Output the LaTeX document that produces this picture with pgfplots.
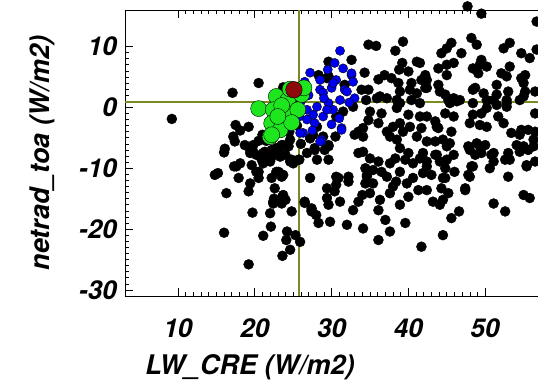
\documentclass[border=0pt]{standalone}
\usepackage{pgfplots}
\pgfplotsset{compat=1.18}
\usepackage{fontspec}
\setmainfont{TeX Gyre Heros}
\definecolor{olivel}{RGB}{125,138,35}
\definecolor{grn}{RGB}{30,230,30}
\definecolor{dred}{RGB}{140,10,10}
\definecolor{blu}{RGB}{0,0,240}
\begin{document}
\begin{tikzpicture}
\useasboundingbox (-125pt,-85pt) rectangle (413pt,296pt);
\begin{axis}[
  at={(0pt,0pt)}, anchor=south west,
  scale only axis, width=420pt, height=286pt,
  xmin=3.1, xmax=57.79, ymin=-31, ymax=16,
  clip=false,
  xtick={10,20,30,40,50}, xticklabels={10,20,30,40,50},
  ytick={-30,-20,-10,0,10}, yticklabels={-30,-20,-10,0,10},
  minor x tick num=9, minor y tick num=9,
  tick align=inside, xtick pos=both, ytick pos=left,
  major tick length=8pt, minor tick length=4pt,
  tick style={black, line width=0.6pt},
  axis line style={black, line width=0.8pt},
  ticklabel style={font=\fontsize{26}{30}\selectfont\bfseries\itshape},
  xticklabel style={anchor=center, yshift=-32pt},
  yticklabel style={anchor=east, inner sep=0pt, xshift=-8pt},
  xlabel={LW\_CRE (W/m2)}, ylabel={netrad\_toa (W/m2)},
  label style={font=\fontsize{27}{30}\selectfont\bfseries\itshape, inner sep=0pt},
  xlabel style={at={(axis description cs:0.2976,-0.25)}, anchor=center},
  ylabel style={at={(axis description cs:-0.1976,0.5)}, anchor=center},
]
\addplot[only marks, mark=*, mark size=5pt, mark options={fill=black, draw=none}] table {
x y
9.2 -1.9
17.1 2.4
20.5 4.0
23.7 3.3
17.5 -2.9
18.1 -3.8
19.2 -3.2
16.1 -6.8
16.0 -7.4
17.4 -5.6
18.7 -6.2
17.2 -4.8
14.8 -11.1
15.2 -10.8
16.3 -14.1
17.3 -9.7
18.1 -9.2
17.9 -11.6
19.6 -9.5
19.4 -12.5
19.2 -13.8
20.5 -10.6
20.5 -11.6
19.8 -7.3
21.1 -9.2
22.2 -11.6
23.1 -10.6
23.7 -11.1
22.6 -13.3
22.4 -15.8
22.5 -15.0
23.6 -14.7
24.0 -15.2
22.0 -17.4
19.7 -17.3
24.8 -17.1
26.5 -15.7
27.2 -11.6
25.8 -8.6
27.4 -17.1
28.0 -17.7
28.3 -19.0
22.1 -19.6
21.1 -21.1
16.0 -20.6
24.2 -20.4
24.1 -21.8
25.3 -21.0
25.9 -22.1
24.6 -23.4
23.6 -24.4
19.2 -25.8
27.8 -7.0
19.4 -7.0
20.2 -7.8
21.3 -7.3
22.2 -8.1
23.1 -7.0
24.0 -7.8
24.6 -8.9
25.0 -9.2
23.5 -6.2
21.1 -8.6
19.8 -6.2
19.4 -7.5
21.1 -7.5
20.9 -8.6
22.2 -7.0
22.8 -6.7
23.7 -6.2
24.4 -6.4
23.3 -8.1
24.8 -8.6
25.7 -8.6
24.6 -5.3
17.6 -9.7
20.2 -10.6
22.8 -10.6
23.5 -11.4
23.7 -14.4
22.4 -15.5
23.5 -15.8
27.6 -4.5
29.1 -7.0
28.1 -8.6
29.6 -8.6
28.1 -3.2
28.9 -4.8
27.2 -5.1
22.0 -8.9
21.5 -5.5
22.5 -4.5
24.5 -4.0
25.5 -3.0
26.0 -6.0
26.8 -7.5
20.5 -5.5
21.0 -4.5
26.5 -15.5
27.4 -16.6
29.4 -14.9
27.8 -6.7
29.6 -6.4
28.3 5.3
29.6 5.1
29.6 7.5
32.6 7.8
29.4 4.8
31.7 3.7
33.9 2.9
34.8 2.9
32.8 0.1
34.8 10.3
35.8 10.1
39.3 10.8
38.3 9.3
41.1 7.5
39.2 7.3
38.8 6.2
40.0 5.9
34.3 5.7
36.9 5.3
37.8 4.8
36.1 4.6
38.7 4.0
40.4 4.0
40.2 2.9
41.1 2.3
41.7 4.5
42.4 3.2
35.9 1.5
37.2 1.5
38.9 2.6
38.5 1.2
36.3 1.8
34.5 1.2
38.9 0.7
40.4 1.2
41.5 0.7
45.2 1.2
46.3 1.0
48.4 0.7
50.2 1.2
52.8 0.7
54.5 1.2
48.2 11.4
48.9 10.3
45.6 10.6
45.0 9.7
44.3 8.9
46.9 8.9
45.9 7.3
45.0 7.0
43.9 6.4
45.0 5.3
42.2 5.3
42.4 4.5
42.2 3.2
43.9 3.7
44.1 2.6
44.8 2.1
45.9 1.5
46.7 1.2
45.4 0.7
48.4 6.4
49.3 7.0
49.5 7.8
50.2 6.7
49.1 5.6
48.7 3.2
48.4 2.9
49.8 2.3
51.1 1.2
51.5 3.7
52.1 5.6
52.8 5.1
53.2 6.7
52.4 9.7
53.2 10.6
54.7 8.9
55.8 8.1
56.7 9.5
55.2 5.3
55.0 4.0
54.7 4.8
55.2 2.6
56.5 2.6
53.0 2.6
51.5 2.1
52.8 1.2
55.0 1.8
41.5 7.3
49.5 15.4
56.7 14.1
47.7 16.6
35.0 -0.7
36.5 -1.0
36.1 -2.6
34.8 -2.1
33.5 -4.0
33.0 -4.5
34.1 -4.8
34.1 -3.4
31.5 -0.7
30.6 -1.5
30.5 -4.8
29.6 -6.2
37.2 -4.0
37.6 -4.8
38.5 -5.3
38.0 -3.2
38.9 -2.6
39.3 -4.0
40.2 -3.2
40.0 -1.2
41.5 -1.5
42.4 -1.5
38.5 -0.1
43.5 -2.3
43.9 -3.4
44.8 -1.0
45.9 -1.5
45.6 -4.0
41.7 -3.4
42.4 -5.6
43.5 -5.6
44.5 -5.3
45.4 -5.9
41.1 -4.8
48.0 -2.6
48.4 -1.2
49.5 -1.0
50.2 -0.1
51.7 -1.5
52.8 0.1
49.3 -2.9
53.4 -4.2
54.5 -4.5
55.6 -3.7
56.5 -4.0
56.5 -1.0
51.5 0.4
50.2 -3.2
52.4 -2.6
54.7 -3.7
56.3 -5.3
43.7 -3.2
34.1 -7.3
33.5 -7.5
35.0 -8.4
36.1 -8.9
35.4 -10.3
34.4 -10.0
34.6 -11.4
36.5 -10.6
37.6 -9.2
37.2 -11.4
30.9 -11.6
32.2 -12.2
30.6 -12.7
35.4 -12.5
38.4 -12.2
39.8 -12.5
38.9 -6.7
40.0 -7.5
38.3 -8.4
39.6 -8.6
40.6 -9.2
41.5 -8.4
38.9 -10.6
40.6 -11.6
41.9 -10.8
41.9 -7.5
43.5 -7.8
44.1 -8.9
45.0 -8.6
42.4 -9.7
43.0 -11.1
44.5 -11.6
47.4 -13.3
48.0 -11.4
48.2 -9.7
48.7 -7.8
47.8 -6.4
48.9 -5.9
50.0 -6.2
49.5 -7.5
50.8 -7.8
51.1 -8.9
50.6 -10.0
53.0 -7.5
52.6 -8.6
55.4 -9.5
54.1 -6.2
55.0 -6.4
55.6 -7.0
53.0 -11.4
56.5 -8.9
45.0 -6.4
44.8 -10.0
46.0 -10.6
45.9 -7.8
48.0 -7.0
49.3 -6.4
51.1 -7.5
53.2 -8.6
54.5 -7.3
56.3 -6.4
42.4 -8.9
43.7 -7.8
32.2 -11.4
34.4 -12.5
34.6 -11.1
29.4 -13.3
30.6 -11.4
30.4 -13.8
27.4 -16.9
29.6 -16.0
31.1 -15.5
32.0 -19.3
29.8 -18.8
32.8 -16.9
34.1 -19.9
33.5 -15.5
34.0 -14.4
35.0 -14.1
36.3 -15.2
36.1 -16.9
37.0 -18.5
37.6 -20.4
36.1 -21.8
39.6 -19.0
38.9 -16.0
40.0 -14.7
38.0 -13.0
37.6 -14.1
41.3 -13.6
42.4 -13.6
41.7 -22.9
43.2 -15.5
44.1 -16.0
44.5 -15.2
44.3 -13.3
45.2 -14.1
44.8 -11.6
45.6 -18.2
46.6 -17.1
44.5 -21.0
47.4 -13.6
47.8 -11.1
48.4 -9.7
51.1 -15.8
52.6 -17.1
55.0 -14.4
55.8 -14.9
55.4 -9.7
};
\addplot[only marks, mark=*, mark size=4.6pt, mark options={fill=blu, draw=none}] table {
x y
27.2 5.7
31.1 9.3
30.4 7.3
31.5 6.4
32.6 5.3
32.8 4.2
28.5 4.5
26.5 4.2
30.6 4.5
28.5 2.9
30.0 3.2
31.7 2.9
33.0 1.5
26.8 -0.4
28.1 0.1
29.6 0.7
31.1 1.2
27.6 -1.2
28.9 -1.5
26.3 -4.2
28.7 -5.3
31.3 -3.4
27.8 -2.6
30.2 -0.4
24.6 -3.2
29.4 -0.4
31.3 -3.7
28.7 -5.6
25.9 -4.2
28.5 -5.6
30.2 4.0
32.0 2.6
28.9 2.4
32.6 5.6
29.5 6.2
27.0 2.0
26.0 1.0
27.5 -3.8
26.8 -2.0
25.8 -1.5
32.3 0.8
31.0 -1.8
30.0 -2.8
29.0 1.5
};
\addplot[only marks, mark=*, mark size=8pt, mark options={fill=grn, draw=none}] table {
x y
20.5 -0.2
22.8 1.8
24.3 1.2
26.1 2.1
26.4 3.2
24.6 3.0
22.4 -0.4
24.2 -1.0
22.2 -2.6
23.3 -3.7
22.0 -4.8
25.6 -0.4
23.5 0.3
24.8 -2.5
23.0 -1.5
22.2 -4.5
};
\addplot[only marks, mark=*, mark size=8.3pt, mark options={fill=dred, draw=none}] coordinates {(25.1,2.9)};
\addplot[olivel, line width=2pt] coordinates {(25.7,-31) (25.7,16)};
\addplot[olivel, line width=2pt] coordinates {(3.1,0.85) (57.79,0.85)};
\end{axis}
\end{tikzpicture}
\end{document}
